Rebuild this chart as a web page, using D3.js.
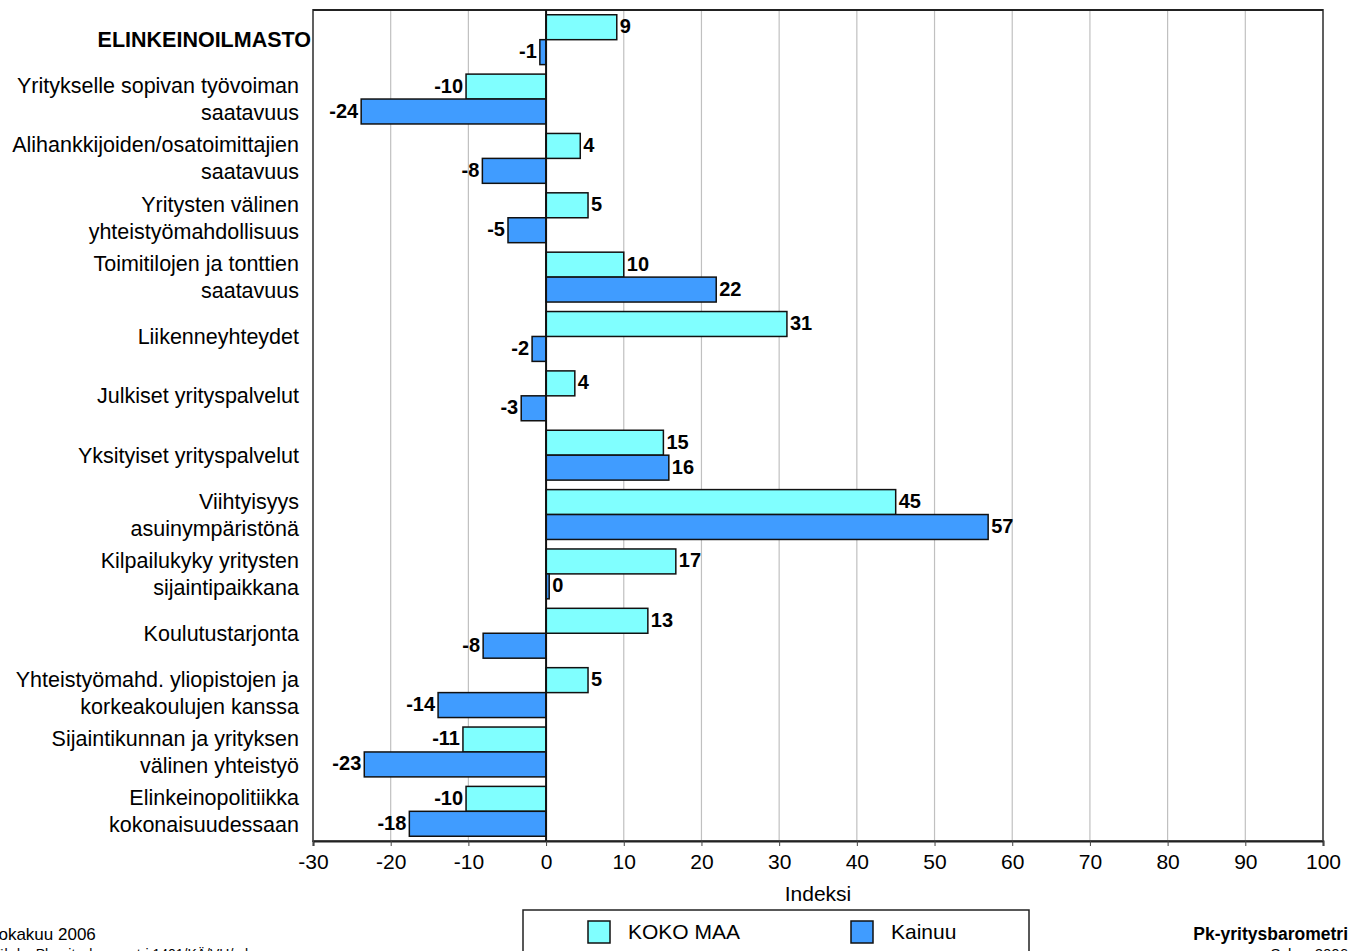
<!DOCTYPE html>
<html>
<head>
<meta charset="utf-8">
<script src="https://cdn.jsdelivr.net/npm/d3@7"></script>
<style>
  body { margin: 0; background: #fff; overflow: hidden; }
  svg { font-family: "Liberation Sans", Arial, sans-serif; }
</style>
</head>
<body>
<div id="chart"></div>
<script>
// categories (\n = line break in label)
const categories = [
  'ELINKEINOILMASTO',
  'Yritykselle sopivan työvoiman\nsaatavuus',
  'Alihankkijoiden/osatoimittajien\nsaatavuus',
  'Yritysten välinen\nyhteistyömahdollisuus',
  'Toimitilojen ja tonttien\nsaatavuus',
  'Liikenneyhteydet',
  'Julkiset yrityspalvelut',
  'Yksityiset yrityspalvelut',
  'Viihtyisyys\nasuinympäristönä',
  'Kilpailukyky yritysten\nsijaintipaikkana',
  'Koulutustarjonta',
  'Yhteistyömahd. yliopistojen ja\nkorkeakoulujen kanssa',
  'Sijaintikunnan ja yrityksen\nvälinen yhteistyö',
  'Elinkeinopolitiikka\nkokonaisuudessaan'
];
const kokoMaa = [9.1, -10.3, 4.4, 5.4, 10.0, 31.0, 3.7, 15.1, 45.0, 16.7, 13.1, 5.4, -10.7, -10.3];
const kainuu  = [-0.8, -23.8, -8.2, -4.9, 21.9, -1.8, -3.2, 15.8, 56.9, 0.4, -8.1, -13.9, -23.4, -17.6];
const seriesNames = ['KOKO MAA', 'Kainuu'];
const seriesColors = ['#80ffff', '#409cff'];
const xTicks = [-30, -20, -10, 0, 10, 20, 30, 40, 50, 60, 70, 80, 90, 100];

const W = 1358, H = 951;
const margin = { top: 10, left: 313, right: 35, bottom: 110 };
const width = W - margin.left - margin.right;
const height = H - margin.top - margin.bottom;
const fs = '21px';

const svg = d3.select('#chart').append('svg')
  .attr('width', W).attr('height', H);

const chart = svg.append('g')
  .attr('transform', `translate(${margin.left}, ${margin.top})`);

const x = d3.scaleLinear().domain([-30, 100]).range([0, width]);
const y = d3.scaleBand().domain(d3.range(categories.length)).range([0, height])
  .paddingInner(0.16).paddingOuter(0.08);
const ySub = d3.scaleBand().domain([0, 1]).range([0, y.bandwidth()]);

// gridlines
chart.selectAll('.grid')
  .data(xTicks.filter(t => t !== -30 && t !== 0 && t !== 100))
  .enter().append('line')
  .attr('x1', d => x(d)).attr('x2', d => x(d))
  .attr('y1', 0).attr('y2', height)
  .attr('stroke', '#c0c0c0').attr('stroke-width', 1.2);

// frame
chart.append('rect')
  .attr('x', 0).attr('y', 0).attr('width', width).attr('height', height)
  .attr('fill', 'none').attr('stroke', '#606060').attr('stroke-width', 2);
chart.append('line')
  .attr('x1', 0).attr('x2', width).attr('y1', 0).attr('y2', 0)
  .attr('stroke', '#222').attr('stroke-width', 2);

// bars
const data = [];
categories.forEach((c, i) => {
  data.push({ i, s: 0, v: kokoMaa[i] });
  data.push({ i, s: 1, v: kainuu[i] });
});

chart.selectAll('.bar')
  .data(data)
  .enter().append('rect')
  .attr('x', d => x(Math.min(0, d.v)))
  .attr('y', d => y(d.i) + ySub(d.s))
  .attr('width', d => Math.abs(x(d.v) - x(0)))
  .attr('height', ySub.bandwidth())
  .attr('fill', d => seriesColors[d.s])
  .attr('stroke', '#111').attr('stroke-width', 1.5);

// zero line
chart.append('line')
  .attr('x1', x(0)).attr('x2', x(0)).attr('y1', 0).attr('y2', height)
  .attr('stroke', '#111').attr('stroke-width', 2);

// value labels
chart.selectAll('.val')
  .data(data)
  .enter().append('text')
  .attr('x', d => d.v >= 0 ? x(d.v) + 3 : x(d.v) - 3)
  .attr('y', d => y(d.i) + ySub(d.s) + ySub.bandwidth() / 2)
  .attr('dy', '0.3em')
  .attr('text-anchor', d => d.v >= 0 ? 'start' : 'end')
  .style('font-size', '20px').style('font-weight', 'bold')
  .text(d => Math.round(d.v));

// category labels
categories.forEach((c, i) => {
  const lines = c.split('\n');
  const cy = y(i) + y.bandwidth() / 2;
  const bold = i === 0;
  const lx = bold ? -2 : -14;
  const t = chart.append('text')
    .attr('text-anchor', 'end')
    .style('font-size', bold ? '21.5px' : '21.5px')
    .style('font-weight', bold ? 'bold' : 'normal');
  lines.forEach((l, k) => {
    t.append('tspan')
      .attr('x', lx)
      .attr('y', cy + (k - (lines.length - 1) / 2) * 27)
      .attr('dy', '0.35em')
      .text(l);
  });
});

// x axis
const xAxis = d3.axisBottom(x).tickValues(xTicks).tickSize(5).tickPadding(8)
  .tickFormat(d => String(d));
const ax = chart.append('g')
  .attr('transform', `translate(0, ${height})`)
  .call(xAxis);
ax.select('.domain').attr('stroke', '#222').attr('stroke-width', 2);
ax.selectAll('.tick line').attr('stroke', '#444');
ax.selectAll('.tick text').style('font-size', fs).attr('fill', '#000')
  .attr('font-family', '"Liberation Sans", Arial, sans-serif');

chart.append('text')
  .attr('x', x(35)).attr('y', height + 60)
  .attr('text-anchor', 'middle')
  .style('font-size', fs)
  .text('Indeksi');

// legend
const lg = svg.append('g').attr('transform', 'translate(523, 910)');
lg.append('rect').attr('width', 506).attr('height', 60)
  .attr('fill', '#fff').attr('stroke', '#222').attr('stroke-width', 1.5);
seriesNames.forEach((n, k) => {
  const gx = k === 0 ? 65 : 328;
  lg.append('rect').attr('x', gx).attr('y', 11).attr('width', 22).attr('height', 22)
    .attr('fill', seriesColors[k]).attr('stroke', '#111').attr('stroke-width', 1.5);
  lg.append('text').attr('x', gx + 40).attr('y', 29)
    .style('font-size', fs).text(n);
});

// footer texts
svg.append('text').attr('x', -11).attr('y', 940)
  .style('font-size', '17px').text('Lokakuu 2006');
svg.append('text').attr('x', -11).attr('y', 959)
  .style('font-size', '14px').text('Lähde: Pk-yritysbarometri 1401/KÄ/VH/mk');
svg.append('text').attr('x', 1348).attr('y', 940)
  .attr('text-anchor', 'end')
  .style('font-size', '17.5px').style('font-weight', 'bold')
  .text('Pk-yritysbarometri');
svg.append('text').attr('x', 1348).attr('y', 959)
  .attr('text-anchor', 'end')
  .style('font-size', '15px')
  .text('Syksy 2006');
</script>
</body>
</html>
